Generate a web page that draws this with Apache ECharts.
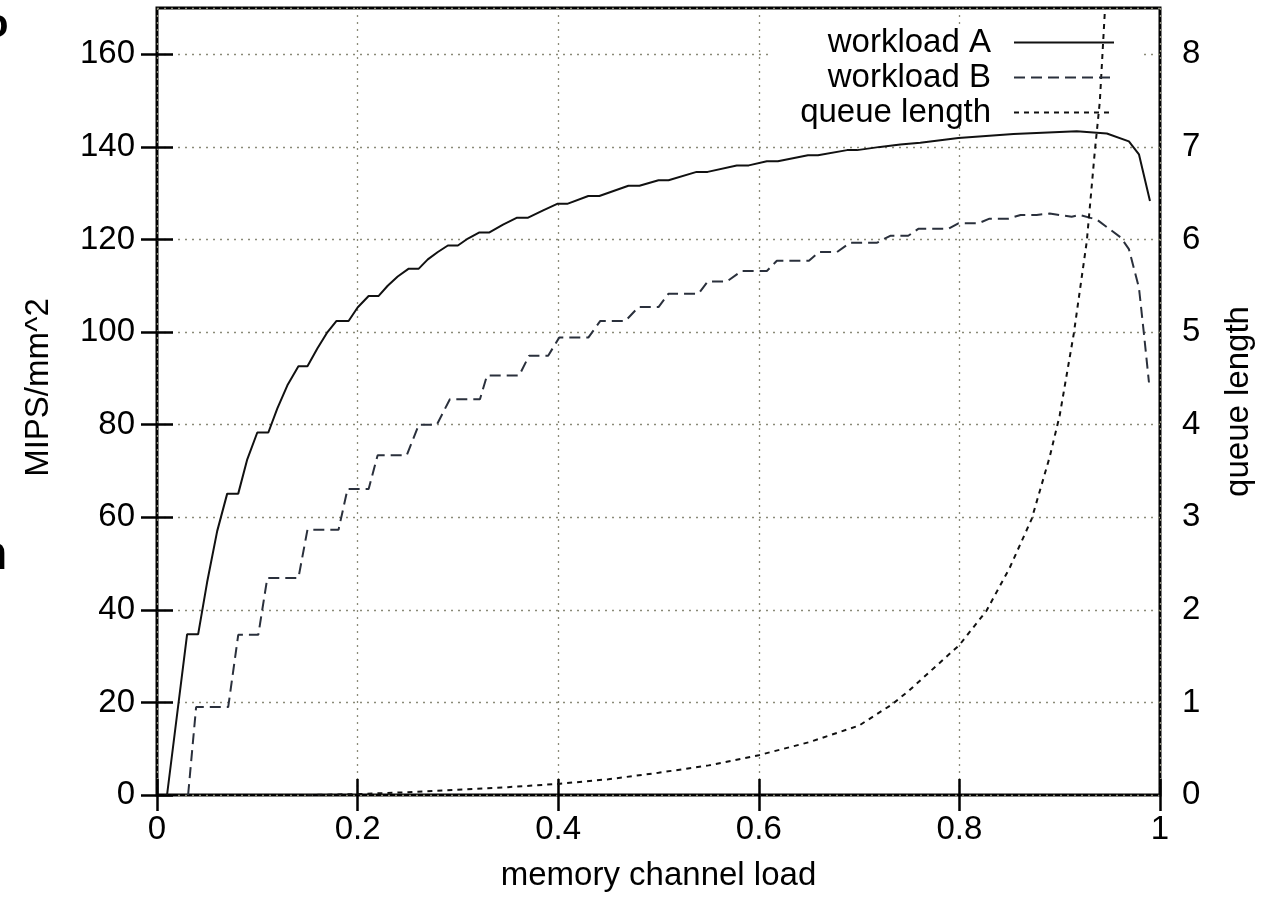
<!DOCTYPE html>
<html><head><meta charset="utf-8">
<script src="https://cdn.jsdelivr.net/npm/echarts@6/dist/echarts.min.js"></script>
<style>html,body{margin:0;padding:0;background:#fff}#c{width:1263px;height:903px}</style>
</head><body><div id="c"></div>
<script>
// workload A
const loadA = [0.010,0.030,0.041,0.050,0.060,0.070,0.081,0.090,0.100,0.111,0.120,0.130,0.141,0.150,0.160,0.170,0.179,0.191,0.200,0.211,0.221,0.230,0.240,0.251,0.261,0.270,0.280,0.290,0.300,0.310,0.321,0.331,0.345,0.359,0.370,0.385,0.399,0.409,0.430,0.441,0.470,0.481,0.500,0.510,0.538,0.549,0.578,0.590,0.608,0.619,0.649,0.659,0.688,0.698,0.721,0.741,0.761,0.799,0.854,0.917,0.947,0.969,0.979,0.990];
const mipsA = [0,34.7,34.7,46,57,65.1,65.1,72.5,78.3,78.3,83.5,88.5,92.6,92.6,96.5,100,102.4,102.4,105.3,107.8,107.8,110,112,113.7,113.7,115.7,117.3,118.7,118.7,120.2,121.5,121.5,123.2,124.7,124.7,126.3,127.7,127.7,129.4,129.4,131.6,131.6,132.8,132.8,134.6,134.6,136.0,136.0,136.9,136.9,138.2,138.2,139.3,139.3,140.0,140.5,140.9,141.9,142.8,143.4,142.9,141.2,138.4,128.3];
// workload B
const loadB = [0.031,0.039,0.071,0.081,0.101,0.110,0.141,0.150,0.181,0.190,0.211,0.220,0.249,0.261,0.279,0.292,0.322,0.329,0.361,0.371,0.390,0.401,0.430,0.442,0.467,0.480,0.500,0.510,0.540,0.549,0.568,0.583,0.608,0.618,0.650,0.660,0.678,0.691,0.718,0.731,0.749,0.759,0.789,0.799,0.819,0.830,0.849,0.861,0.877,0.890,0.912,0.920,0.937,0.961,0.969,0.979,0.984,0.989];
const mipsB = [0,19.0,19.0,34.6,34.6,46.9,46.9,57.3,57.3,66.1,66.1,73.4,73.4,80.0,80.0,85.5,85.5,90.6,90.6,94.9,94.9,98.8,98.8,102.4,102.4,105.4,105.4,108.3,108.3,110.9,110.9,113.2,113.2,115.4,115.4,117.3,117.3,119.3,119.3,120.8,120.8,122.3,122.3,123.5,123.5,124.5,124.5,125.3,125.3,125.6,124.9,125.3,124.3,120.4,117.9,109.6,99.6,89.1];
// queue length (right axis)
const loadQ = [0.15,0.20,0.25,0.30,0.35,0.40,0.45,0.50,0.55,0.60,0.65,0.70,0.733,0.75,0.80,0.827,0.85,0.872,0.89,0.90,0.914,0.927,0.935,0.94,0.945,0.95];
const queueLen = [0,0.01,0.03,0.056,0.085,0.12,0.17,0.24,0.32,0.43,0.57,0.75,0.98,1.13,1.62,1.99,2.45,2.98,3.65,4.1,4.98,5.98,6.95,7.49,8.46,9.3];

const seriesNames = ['workload A','workload B','queue length'];
const xTitle = 'memory channel load';
const yTitle = 'MIPS/mm^2';
const y2Title = 'queue length';

const pairs = (xs, ys) => xs.map((x, i) => [x, ys[i]]);
const FONT = 'Liberation Sans';
const FS = 33;
const gridStyle = {color: '#8a8a78', width: 1.3, type: [2, 5]};
const tickStyle = {color: '#000', width: 2.5};
const TICK = 16;

const chart = echarts.init(document.getElementById('c'), null, {renderer: 'canvas'});
chart.setOption({
  backgroundColor: '#fff',
  animation: false,
  textStyle: {fontFamily: FONT},
  grid: {left: 157, right: 103, top: 8, bottom: 108, show: true, borderColor: '#000', borderWidth: 3, backgroundColor: 'transparent', outerBoundsMode: 'none'},
  legend: {
    data: seriesNames, orient: 'vertical', align: 'right', right: 148, top: 25, padding: 0,
    itemWidth: 100, itemHeight: 14, itemGap: 0,
    itemStyle: {opacity: 0, color: 'rgba(0,0,0,0)', borderWidth: 0},
    textStyle: {fontSize: FS, fontFamily: FONT, color: '#000', lineHeight: 35, padding: [0, 18, 0, 0]}
  },
  xAxis: [{
    type: 'value', min: 0, max: 1, interval: 0.2, position: 'bottom',
    name: xTitle, nameLocation: 'middle', nameGap: 64,
    nameTextStyle: {fontSize: FS, fontFamily: FONT, color: '#000'},
    axisLine: {show: false},
    axisTick: {show: true, inside: true, length: TICK, lineStyle: tickStyle},
    axisLabel: {fontSize: FS, fontFamily: FONT, color: '#000', margin: 18},
    splitLine: {show: true, lineStyle: gridStyle}
  }, {
    type: 'value', min: 0, max: 1, interval: 0.2, position: 'top',
    axisLine: {show: false},
    axisTick: {show: true, inside: true, length: TICK, lineStyle: tickStyle},
    axisLabel: {show: false}, splitLine: {show: false}
  }],
  yAxis: [{
    type: 'value', min: 0, max: 170, interval: 20, position: 'left',
    name: yTitle, nameLocation: 'middle', nameGap: 102, nameRotate: 90,
    nameTextStyle: {fontSize: FS, fontFamily: FONT, color: '#000', padding: [0, 0, 0, 28]},
    axisLine: {show: false},
    axisTick: {show: true, inside: true, length: TICK, lineStyle: tickStyle},
    axisLabel: {fontSize: FS, fontFamily: FONT, color: '#000', margin: 22, showMaxLabel: false},
    splitLine: {show: true, lineStyle: gridStyle}
  }, {
    type: 'value', min: 0, max: 8.5, interval: 1, position: 'right',
    name: y2Title, nameLocation: 'middle', nameGap: 62, nameRotate: 90,
    nameTextStyle: {fontSize: FS, fontFamily: FONT, color: '#000'},
    axisLine: {show: false},
    axisTick: {show: true, inside: true, length: TICK, lineStyle: tickStyle},
    axisLabel: {fontSize: FS, fontFamily: FONT, color: '#000', margin: 22, showMaxLabel: false},
    splitLine: {show: false}
  }],
  graphic: {elements: [
    {type: 'rect', z: 1, shape: {x: 772, y: 25, width: 371, height: 102}, style: {fill: '#fff'}, silent: true},
    {type: 'text', z: 1, style: {x: -16, y: 46, text: 'o', font: 'bold 40px Liberation Sans', fill: '#000', verticalAlign: 'bottom'}},
    {type: 'text', z: 1, style: {x: -22, y: 580, text: 'n', font: 'bold 48px Liberation Sans', fill: '#000', verticalAlign: 'bottom'}}
  ]},
  series: [{
    name: seriesNames[0], type: 'line', xAxisIndex: 0, yAxisIndex: 0, symbol: 'none', z: 3,
    lineStyle: {color: '#111', width: 2, type: 'solid'}, itemStyle: {color: '#111'},
    data: pairs(loadA, mipsA)
  }, {
    name: seriesNames[1], type: 'line', xAxisIndex: 0, yAxisIndex: 0, symbol: 'none', z: 3,
    lineStyle: {color: '#2a303c', width: 2, type: [11, 6]}, itemStyle: {color: '#2a303c'},
    data: pairs(loadB, mipsB)
  }, {
    name: seriesNames[2], type: 'line', xAxisIndex: 0, yAxisIndex: 1, symbol: 'none', z: 3, clip: true,
    lineStyle: {color: '#111', width: 2, type: [5, 5]}, itemStyle: {color: '#111'},
    data: pairs(loadQ, queueLen)
  }]
});
</script></body></html>
